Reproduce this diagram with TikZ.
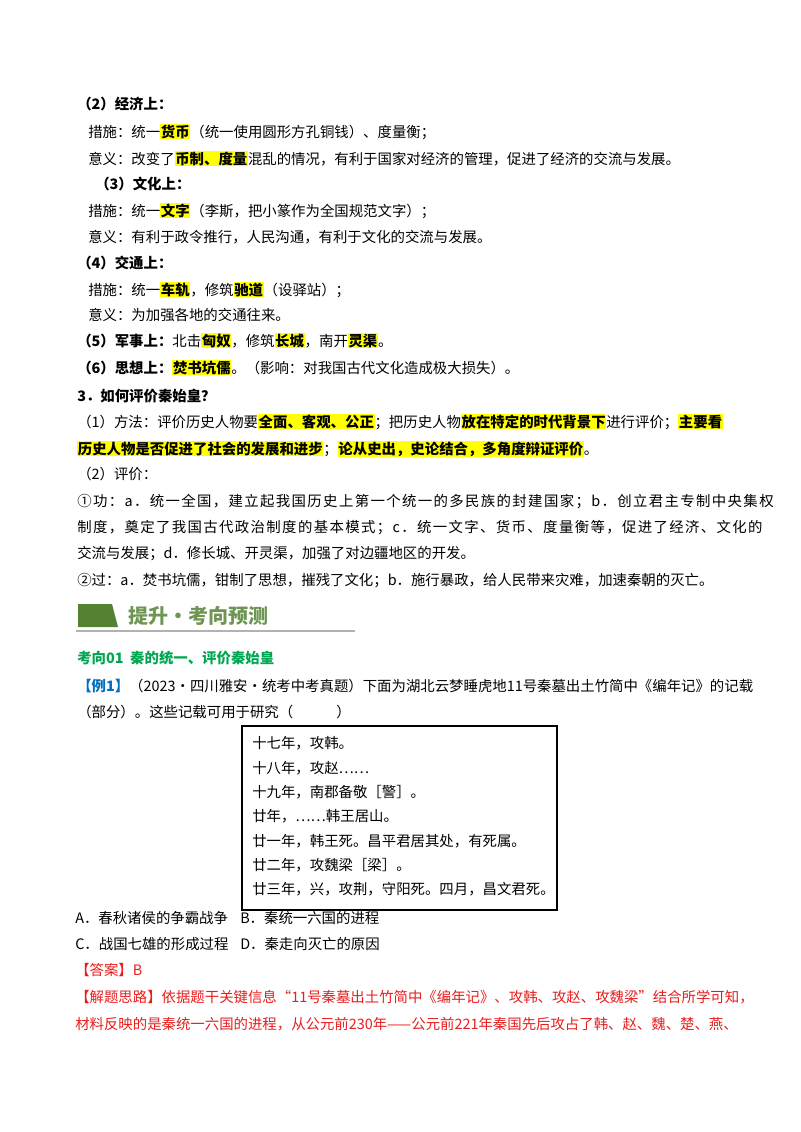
\documentclass[tikz,border=0pt]{standalone}
\usepackage{fontspec}
\setmainfont{Noto Sans CJK SC}
\newfontfamily\jfont{Noto Sans CJK SC}[LetterSpace=9.5]
\XeTeXinterchartokenstate=1
\XeTeXinterchartoks 1 1 = {\hskip0pt plus 3pt\relax}
\XeTeXinterchartoks 1 2 = {\hskip0pt plus 3pt\relax}
\XeTeXinterchartoks 2 1 = {\hskip0pt plus 3pt\relax}
\XeTeXinterchartoks 3 1 = {\hskip0pt plus 3pt\relax}
\XeTeXinterchartoks 1 3 = {\hskip0pt plus 3pt\relax}
\XeTeXinterchartoks 0 1 = {\hskip0pt plus 3pt\relax}
\XeTeXinterchartoks 1 0 = {\hskip0pt plus 3pt\relax}
\XeTeXinterchartoks 3 0 = {\hskip0pt plus 3pt\relax}
\XeTeXinterchartoks 0 2 = {\hskip0pt plus 3pt\relax}
\definecolor{hly}{RGB}{255,255,0}
\definecolor{ansred}{RGB}{230,30,30}
\definecolor{exblue}{RGB}{0,112,192}
\definecolor{kgreen}{RGB}{0,166,81}
\definecolor{bgreen}{RGB}{84,130,53}
\newcommand\hlt[1]{{\setlength\fboxsep{0.5pt}\colorbox{hly}{\bfseries #1}}}
\newcommand\jline[1]{\makebox[487pt][s]{#1}}
\begin{document}
\begin{tikzpicture}[x=0.75pt,y=-0.75pt,
  t/.style={anchor=base west,inner sep=0pt,font=\fontsize{10.8}{13}\selectfont}]
\useasboundingbox (0,0) rectangle (800,1132);
\node[t] (l1) at (77,109) {\bfseries （2）经济上：};
\node[t] (l2) at (88,137) {措施：统一\hlt{货币}（统一使用圆形方孔铜钱）、度量衡；};
\node[t] (l3) at (88,164) {意义：改变了\hlt{币制、度量}混乱的情况，有利于国家对经济的管理，促进了经济的交流与发展。};
\node[t] (l4) at (95,189) {\bfseries （3）文化上：};
\node[t] (l5) at (88,216) {措施：统一\hlt{文字}（李斯，把小篆作为全国规范文字）；};
\node[t] (l6) at (88,242) {意义：有利于政令推行，人民沟通，有利于文化的交流与发展。};
\node[t] (l7) at (77,268) {\bfseries （4）交通上：};
\node[t] (l8) at (88,295) {措施：统一\hlt{车轨}，修筑\hlt{驰道}（设驿站）；};
\node[t] (l9) at (88,320) {意义：为加强各地的交通往来。};
\node[t] (l10) at (77,346) {\textbf{（5）军事上：}北击\hlt{匈奴}，修筑\hlt{长城}，南开\hlt{灵渠}。};
\node[t] (l11) at (77,373) {\textbf{（6）思想上：}\hlt{焚书坑儒}。（影响：对我国古代文化造成极大损失）。};
\node[t] (l12) at (77,401) {\bfseries 3．如何评价秦始皇？};
\node[t] (l13) at (77,427) {\jline{（1）方法：评价历史人物要\hlt{全面、客观、公正}；把历史人物\hlt{放在特定的时代背景下}进行评价；\hlt{主要看}}};
\node[t] (l14) at (77,454) {\hlt{历史人物是否促进了社会的发展和进步}；\hlt{论从史出，史论结合，多角度辩证评价}。};
\node[t] (l15) at (77,479) {（2）评价：};
\node[t] (l16) at (77,506) {\jfont ①功：a．统一全国，建立起我国历史上第一个统一的多民族的封建国家；b．创立君主专制中央集权};
\node[t] (l17) at (77,532) {\jfont 制度，奠定了我国古代政治制度的基本模式；c．统一文字、货币、度量衡等，促进了经济、文化的};
\node[t] (l18) at (77,558) {交流与发展；d．修长城、开灵渠，加强了对边疆地区的开发。};
\node[t] (l19) at (77,585) {②过：a．焚书坑儒，钳制了思想，摧残了文化；b．施行暴政，给人民带来灾难，加速秦朝的灭亡。};
% banner
\fill[bgreen] (78,604) -- (112,604) -- (118,627) -- (78,627) -- cycle;
\draw[gray!60,line width=1pt] (76,631) -- (355,631);
\node[anchor=west,inner sep=0pt,text=bgreen!85!white,font=\fontsize{15}{18}\selectfont\bfseries] (ban) at (128,616) {提升·考向预测};
\node[t,text=kgreen] (k1) at (77,663) {\bfseries 考向01\ \ 秦的统一、评价秦始皇};
\node[t] (e1) at (77,691) {\jline{\textcolor{exblue}{\bfseries 【例1】}（2023·四川雅安·统考中考真题）下面为湖北云梦睡虎地11号秦墓出土竹简中《编年记》的记载}};
\node[t] (e2) at (77,717) {（部分）。这些记载可用于研究（\qquad\quad ）};
\draw[line width=0.8pt] (242,726) rectangle (557,910);
\node[t] (b1) at (252,748) {十七年，攻韩。};
\node[t] (b2) at (252,773) {十八年，攻赵……};
\node[t] (b3) at (252,797) {十九年，南郡备敬［警］。};
\node[t] (b4) at (252,821) {廿年，……韩王居山。};
\node[t] (b5) at (252,846) {廿一年，韩王死。昌平君居其处，有死属。};
\node[t] (b6) at (252,870) {廿二年，攻魏梁［梁］。};
\node[t] (b7) at (252,894) {廿三年，兴，攻荆，守阳死。四月，昌文君死。};
\node[t] (a1) at (75,923) {A．春秋诸侯的争霸战争};
\node[t] (a2) at (240,923) {B．秦统一六国的进程};
\node[t] (a3) at (75,949) {C．战国七雄的形成过程};
\node[t] (a4) at (240,949) {D．秦走向灭亡的原因};
\node[t,text=ansred] (r1) at (75,975) {【答案】B};
\node[t,text=ansred] (r2) at (75,1002) {\makebox[489pt][s]{【解题思路】依据题干关键信息“11号秦墓出土竹简中《编年记》、攻韩、攻赵、攻魏梁”结合所学可知，}};
\node[t,text=ansred] (r3) at (75,1029) {\makebox[489pt][s]{材料反映的是秦统一六国的进程，从公元前230年——公元前221年秦国先后攻占了韩、赵、魏、楚、燕、}};
\end{tikzpicture}
\end{document}
